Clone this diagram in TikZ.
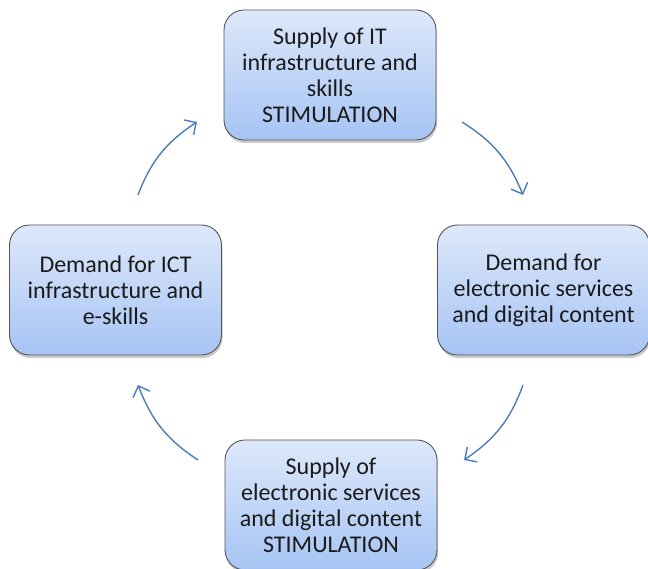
\documentclass[tikz,border=0pt]{standalone}
\usepackage{fontspec}
\setmainfont{Carlito}
\usetikzlibrary{shadows,arrows.meta,bending}
\definecolor{boxtop}{HTML}{DDE8FA}
\definecolor{boxbot}{HTML}{A6C4F4}
\definecolor{boxline}{HTML}{555555}
\definecolor{arrowc}{HTML}{4A7EBB}
\definecolor{txt}{HTML}{1A1A1A}
\tikzset{
  cyclebox/.style={draw=boxline, line width=0.9pt, rounded corners=20pt,
    top color=boxtop, bottom color=boxbot,
    minimum width=212pt, minimum height=130pt, align=center,
    text=txt, font=\fontsize{24}{26}\selectfont, inner sep=0pt,
    drop shadow={shadow xshift=1pt, shadow yshift=-3pt, opacity=0.35, fill=black!60}},
  cyclearrow/.style={draw=arrowc, line width=1.4pt,
    -{Straight Barb[length=9pt,width=18pt,line width=1.4pt]}}
}
\begin{document}
\begin{tikzpicture}[x=1pt,y=-1pt]
\useasboundingbox (0,0) rectangle (648,569);
\node[cyclebox] (top) at (330,75) {Supply of IT\\infrastructure and\\skills\\STIMULATION};
\node[cyclebox] (right) at (543.5,290) {Demand for\\electronic services\\and digital content};
\node[cyclebox] (left) at (115.5,290) {Demand for ICT\\infrastructure and\\e-skills};
\node[cyclebox] (bottom) at (331,505) {Supply of\\electronic services\\and digital content\\STIMULATION};
\coordinate (a1s) at (462,122); \coordinate (a1e) at (523,195);
\coordinate (a2s) at (523,385); \coordinate (a2e) at (464,460);
\coordinate (a3s) at (198,460); \coordinate (a3e) at (138,385);
\coordinate (a4s) at (138,195); \coordinate (a4e) at (197,122);
\draw[cyclearrow] (a1s) to[bend left=18] (a1e);
\draw[cyclearrow] (a2s) to[bend left=18] (a2e);
\draw[cyclearrow] (a3s) to[bend left=18] (a3e);
\draw[cyclearrow] (a4s) to[bend left=18] (a4e);
\end{tikzpicture}
\end{document}
